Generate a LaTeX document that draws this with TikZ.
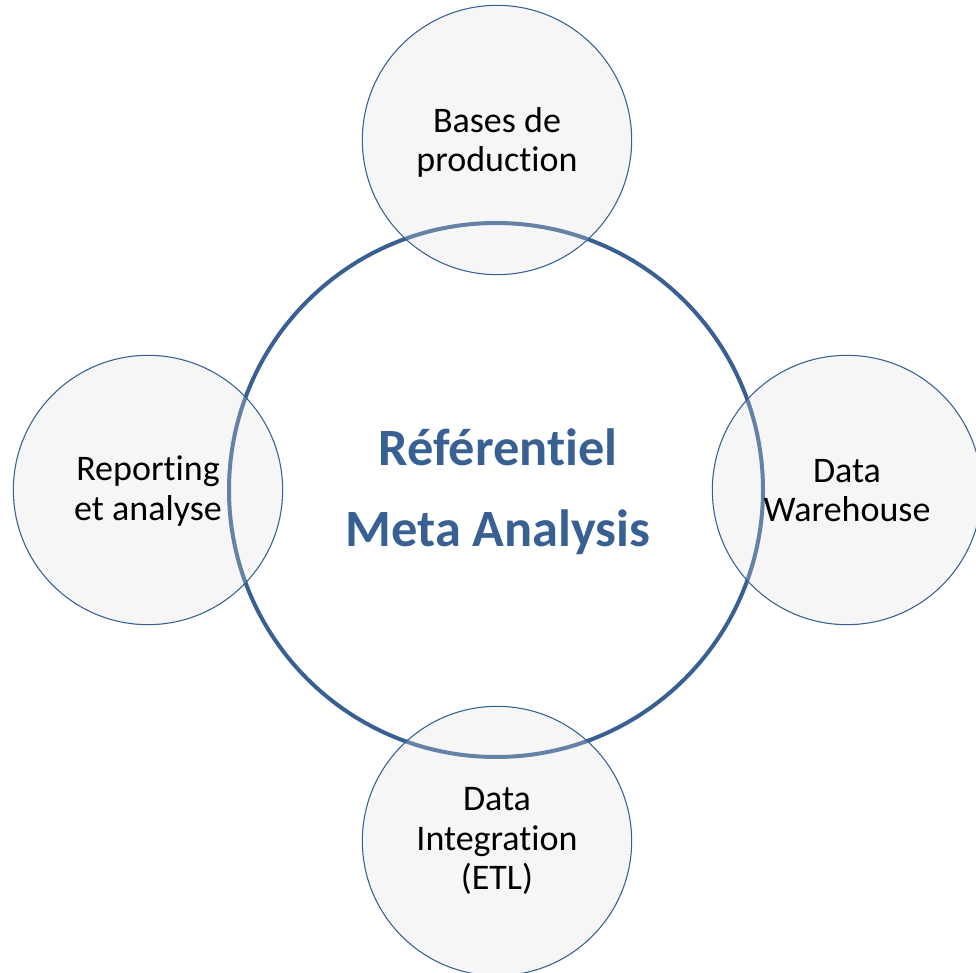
\documentclass[tikz,border=0pt]{standalone}
\usepackage{fontspec}
\setmainfont{Carlito}[RawFeature=-liga]
\definecolor{mablue}{RGB}{56,96,146}
\definecolor{smallfill}{RGB}{222,222,222}
\tikzset{
  bigcirc/.style={circle, draw=mablue, line width=3pt, minimum size=400.5pt, inner sep=0pt},
  smallcirc/.style={circle, draw=mablue, line width=0.8pt, fill=smallfill, fill opacity=0.27, draw opacity=1, text opacity=1, minimum size=202pt, inner sep=0pt},
  smalltext/.style={align=center, font=\fontsize{27}{29.3}\selectfont, text=black},
  bigtext/.style={align=center, font=\fontsize{39.3}{60.5}\selectfont\bfseries, text=mablue}
}
\begin{document}
\begin{tikzpicture}[x=0.75pt,y=-0.75pt]
\useasboundingbox (0,0) rectangle (976,973);
\node[bigcirc] (ref) at (496,490) {};
\node[smallcirc] (top) at (497,140) {};
\node[smallcirc] (left) at (148,490) {};
\node[smallcirc] (right) at (847,490) {};
\node[smallcirc] (bottom) at (497,841) {};
\node[smalltext] (toptext) at (497,142) {Bases de\\production};
\node[smalltext] (lefttext) at (148,491) {Reporting\\et analyse};
\node[smalltext] (righttext) at (847,491) {Data\\Warehouse};
\node[smalltext] (bottomtext) at (497,841) {Data\\Integration\\(ETL)};
\node[bigtext] (reftext) at (498,492) {Référentiel\\Meta Analysis};
\end{tikzpicture}
\end{document}
